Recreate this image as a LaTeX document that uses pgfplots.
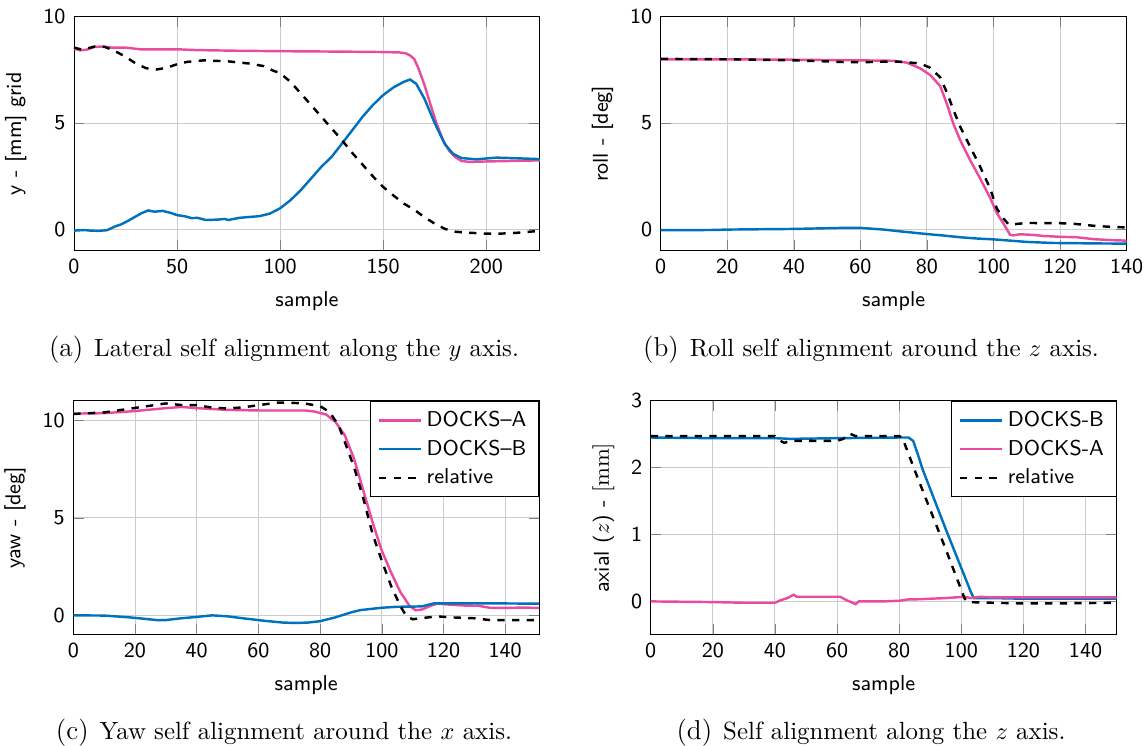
\documentclass[border=0pt]{standalone}
\usepackage{pgfplots}
\pgfplotsset{compat=1.18}
\definecolor{dpink}{RGB}{233,76,158}
\definecolor{dblue}{RGB}{0,114,189}

\pgfplotsset{
  docks/.style={
    width=191pt, height=96pt, scale only axis,
    grid=major, major grid style={gray!40, line width=0.4pt},
    /pgf/number format/assume math mode=true,
    tick label style={font=\fontsize{8.8}{10}\sffamily},
    label style={font=\fontsize{8.8}{10}\sffamily},
    legend style={font=\fontsize{8.8}{10}\sffamily, at={(1,1)}, anchor=north east,
      cells={anchor=west}},
    every axis plot/.append style={line width=1pt},
    xlabel=sample,
  },
  pinkline/.style={color=dpink},
  blueline/.style={color=dblue},
  relline/.style={color=black, dashed},
}
\newcommand\subcap[2]{{\fontsize{11.2}{13}\selectfont(#1)}\hspace{4.5pt}{\fontsize{10.2}{12}\selectfont #2}}

\begin{document}
\begin{tikzpicture}
\path[use as bounding box] (0pt,0pt) rectangle (469.86pt,-305.45pt);

% (a) lateral
\begin{axis}[docks, at={(30.34pt,-6.85pt)}, anchor=north west,
  xmin=0, xmax=226, ymin=-1, ymax=10,
  xtick={0,50,...,200}, ytick={0,5,10},
  ylabel={y - [mm] grid}]
\addplot[pinkline] coordinates {(0,8.5)(3,8.42)(6,8.45)(10,8.58)(14,8.6)(18,8.55)(25,8.55)(32,8.47)(40,8.47)(50,8.47)(60,8.43)(80,8.4)(100,8.38)(130,8.36)(150,8.34)(158,8.32)(161,8.28)(163,8.18)(165,8.02)(167,7.6)(170,6.8)(173,5.85)(176,4.95)(179,4.2)(182,3.7)(185,3.4)(188,3.22)(192,3.18)(200,3.2)(210,3.22)(220,3.24)(226,3.25)};
\addplot[blueline] coordinates {(0,-0.05)(5,-0.02)(8,-0.05)(12,-0.06)(16,-0.03)(20,0.15)(23,0.25)(26,0.4)(30,0.62)(33,0.78)(36,0.9)(39,0.84)(43,0.88)(47,0.78)(50,0.68)(54,0.62)(57,0.54)(60,0.55)(64,0.45)(70,0.47)(73,0.5)(75,0.45)(80,0.55)(86,0.6)(90,0.63)(95,0.75)(100,1.0)(105,1.38)(110,1.85)(115,2.4)(120,2.95)(125,3.42)(130,4.04)(135,4.67)(140,5.3)(145,5.85)(150,6.32)(155,6.68)(160,6.94)(163,7.05)(166,6.85)(170,6.15)(175,5.0)(180,4.0)(184,3.55)(188,3.36)(195,3.3)(205,3.38)(215,3.35)(226,3.31)};
\addplot[relline] coordinates {(0,8.55)(4,8.45)(10,8.6)(15,8.58)(20,8.38)(25,8.12)(30,7.8)(35,7.58)(40,7.52)(45,7.6)(50,7.77)(55,7.88)(63,7.95)(75,7.9)(85,7.8)(92,7.68)(97,7.45)(100,7.35)(105,6.94)(110,6.4)(115,5.85)(120,5.3)(125,4.75)(130,4.2)(135,3.6)(140,3.05)(145,2.5)(150,2.0)(155,1.6)(160,1.22)(165,0.94)(170,0.58)(175,0.28)(180,0.03)(185,-0.1)(190,-0.14)(200,-0.19)(205,-0.2)(215,-0.15)(226,-0.06)};
\end{axis}

% (b) roll
\begin{axis}[docks, at={(270.89pt,-6.85pt)}, anchor=north west,
  xmin=0, xmax=140, ymin=-1, ymax=10,
  xtick={0,20,...,140}, ytick={0,5,10},
  ylabel={roll - [deg]}]
\addplot[pinkline] coordinates {(0,8.0)(20,8.0)(40,7.98)(60,7.95)(70,7.93)(74,7.84)(78,7.57)(81,7.26)(84,6.74)(86,5.9)(88,4.95)(90,4.2)(93,3.26)(96,2.4)(99,1.49)(101,0.78)(103,0.28)(105,-0.25)(106,-0.27)(108,-0.22)(112,-0.25)(115,-0.3)(120,-0.34)(125,-0.36)(130,-0.45)(136,-0.5)(140,-0.52)};
\addplot[blueline] coordinates {(0,-0.03)(15,-0.02)(20,0)(40,0.03)(55,0.08)(60,0.08)(67,0.0)(73,-0.1)(80,-0.21)(85,-0.28)(90,-0.36)(95,-0.42)(100,-0.46)(105,-0.52)(110,-0.58)(118,-0.63)(125,-0.64)(130,-0.65)(140,-0.66)};
\addplot[relline] coordinates {(0,8.02)(20,8.0)(40,7.95)(50,7.9)(55,7.87)(60,7.86)(70,7.9)(74,7.86)(78,7.8)(81,7.6)(84,7.15)(86,6.44)(88,5.61)(90,4.83)(93,3.89)(96,2.95)(99,1.93)(101,0.99)(103,0.52)(104.5,0.25)(106,0.25)(110,0.31)(120,0.3)(125,0.26)(130,0.18)(135,0.13)(140,0.1)};
\end{axis}

% (c) yaw
\begin{axis}[docks, at={(30.05pt,-164.29pt)}, anchor=north west,
  xmin=0, xmax=151, ymin=-1, ymax=11,
  xtick={0,20,...,140}, ytick={0,5,10},
  ylabel={yaw - [deg]}]
\addplot[pinkline] coordinates {(0,10.34)(10,10.36)(20,10.47)(30,10.62)(35,10.68)(40,10.62)(50,10.53)(60,10.5)(75,10.5)(78,10.45)(82,10.29)(85,9.91)(88,9.23)(91,8.03)(94,6.4)(97,4.77)(100,3.31)(103,2.2)(106,1.2)(109,0.48)(111,0.26)(113,0.3)(116,0.5)(118,0.6)(122,0.55)(127,0.5)(131,0.5)(135,0.39)(140,0.38)(146,0.4)(151,0.38)};
\addlegendentry{DOCKS--A}
\addplot[blueline] coordinates {(0,0)(10,-0.01)(18,-0.1)(22,-0.16)(27,-0.24)(30,-0.24)(35,-0.15)(40,-0.08)(45,0)(50,-0.05)(55,-0.15)(62,-0.28)(68,-0.37)(72,-0.39)(76,-0.37)(80,-0.3)(85,-0.1)(90,0.15)(93,0.27)(96,0.32)(100,0.39)(105,0.44)(110,0.45)(113,0.46)(117,0.62)(125,0.61)(130,0.62)(140,0.61)(151,0.6)};
\addlegendentry{DOCKS--B}
\addplot[relline] coordinates {(0,10.32)(10,10.4)(20,10.63)(30,10.86)(35,10.78)(40,10.77)(45,10.65)(50,10.6)(55,10.66)(60,10.77)(66,10.9)(70,10.9)(75,10.86)(80,10.72)(83,10.43)(86,9.74)(88,8.89)(91,7.6)(94,6.0)(97,4.17)(100,2.8)(103,1.51)(106,0.48)(108,-0.05)(110,-0.2)(113,-0.14)(118,-0.05)(122,-0.1)(130,-0.15)(135,-0.24)(151,-0.25)};
\addlegendentry{relative}
\end{axis}

% (d) axial
\begin{axis}[docks, at={(266.79pt,-164.29pt)}, anchor=north west,
  xmin=0, xmax=150, ymin=-0.5, ymax=3,
  xtick={0,20,...,140}, ytick={0,1,2,3},
  ylabel={axial ($z$) - $[\mathrm{mm}]$}]
\addplot[blueline] coordinates {(0,2.45)(20,2.44)(40,2.44)(45,2.43)(60,2.44)(80,2.45)(83,2.45)(84.5,2.4)(86,2.2)(87.5,1.98)(95,1.08)(103,0.15)(104,0.05)(110,0.05)(120,0.04)(150,0.04)};
\addlegendentry{DOCKS-B}
\addplot[pinkline] coordinates {(0,0)(20,-0.01)(30,-0.02)(40,-0.02)(42,0.02)(44,0.05)(46,0.1)(47,0.07)(55,0.07)(61,0.07)(63,0.02)(66,-0.04)(67,0)(75,0)(80,0.01)(83,0.03)(85,0.03)(90,0.04)(95,0.05)(101,0.07)(103,0.05)(106,0.07)(110,0.06)(150,0.06)};
\addlegendentry{DOCKS-A}
\addplot[relline] coordinates {(0,2.47)(40,2.47)(41,2.42)(43,2.37)(45,2.4)(60,2.4)(62,2.43)(64,2.51)(66,2.47)(80,2.47)(81,2.45)(85,1.96)(95,0.78)(101,0.05)(102,-0.01)(110,-0.02)(120,-0.03)(130,-0.03)(150,-0.02)};
\addlegendentry{relative}
\end{axis}

\node[anchor=base] at (116.44pt,-145.96pt) {\subcap{a}{Lateral self alignment along the $y$ axis.}};
\node[anchor=base] at (357.11pt,-145.96pt) {\subcap{b}{Roll self alignment around the $z$ axis.}};
\node[anchor=base] at (116.44pt,-302.99pt) {\subcap{c}{Yaw self alignment around the $x$ axis.}};
\node[anchor=base] at (357.11pt,-302.99pt) {\subcap{d}{Self alignment along the $z$ axis.}};
\end{tikzpicture}
\end{document}
